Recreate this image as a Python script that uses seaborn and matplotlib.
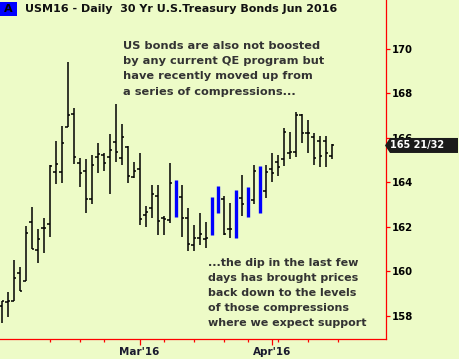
import numpy as np
import pandas as pd
import matplotlib
matplotlib.use("Agg")
import matplotlib.pyplot as plt
import seaborn as sns
from matplotlib.patches import Polygon, Rectangle

# ---------------- data ----------------
first_day = "2016-01-27"
last_day = "2016-04-29"
holidays = ["2016-02-15", "2016-03-25"]

opens = [158.45, 158.60, 158.67, 159.91, 159.57, 162.21, 160.95, 161.93, 162.12, 164.48,
         164.48, 166.48, 167.07, 164.86, 164.50, 163.25, 165.13, 165.23, 165.13, 165.80,
         165.11, 165.60, 164.23, 164.60, 162.53, 162.83, 163.38, 162.41, 162.30, 163.30,
         163.33, 162.38, 161.18, 161.51, 161.45, 162.50, 163.20, 163.24, 161.89, 162.60,
         163.28, 163.10, 163.20, 163.70, 163.61, 164.60, 164.91, 165.04, 165.30, 165.35,
         167.03, 166.23, 166.03, 165.86, 165.86, 165.18]
highs = [158.66, 159.05, 160.50, 160.18, 162.03, 162.88, 161.89, 162.38, 164.78, 165.87,
         166.53, 169.41, 167.33, 165.08, 165.05, 165.23, 165.76, 165.31, 166.17, 167.51,
         166.61, 165.63, 164.93, 165.31, 162.93, 163.88, 163.88, 162.48, 164.88, 164.10,
         163.88, 162.83, 162.08, 162.61, 162.23, 163.35, 163.83, 163.38, 163.06, 163.65,
         164.33, 163.78, 164.77, 164.73, 164.77, 165.31, 165.23, 166.46, 166.25, 167.18,
         167.07, 166.80, 166.21, 166.08, 166.08, 165.71]
lows = [157.68, 157.95, 158.67, 159.12, 159.57, 160.99, 160.38, 160.81, 161.55, 163.92,
        163.98, 166.48, 164.81, 163.78, 162.61, 163.01, 164.41, 164.51, 163.46, 164.93,
        164.78, 163.96, 164.18, 162.08, 162.00, 162.38, 161.63, 161.63, 162.18, 162.45,
        161.55, 160.92, 160.92, 161.18, 161.03, 161.63, 162.63, 161.63, 161.48, 161.48,
        162.48, 162.45, 163.01, 162.63, 163.31, 164.03, 164.28, 164.75, 165.04, 165.13,
        165.78, 165.33, 164.78, 164.68, 164.68, 165.04]
closes = [158.64, 158.67, 159.69, 159.12, 161.71, 161.01, 161.44, 161.95, 164.73, 164.81,
          165.76, 167.02, 165.13, 164.41, 163.24, 164.78, 165.26, 164.86, 165.45, 165.35,
          166.03, 164.28, 164.52, 162.35, 162.68, 163.47, 162.26, 162.34, 163.96, 163.00,
          162.38, 161.21, 161.48, 161.66, 161.48, 162.40, 163.40, 161.66, 161.92, 162.20,
          163.01, 163.50, 164.51, 164.00, 164.46, 164.43, 164.68, 166.25, 165.38, 167.03,
          166.21, 166.21, 165.08, 165.18, 165.33, 165.656]
compression_bars = [29, 35, 36, 39, 41, 43]

y_ticks = [158, 160, 162, 164, 166, 168, 170]
month_ticks = ["2016-03-01", "2016-04-01"]
month_labels = ["Mar'16", "Apr'16"]
week_ticks = ["2016-02-08", "2016-02-16", "2016-02-22", "2016-03-07", "2016-03-14",
              "2016-03-21", "2016-03-28", "2016-04-04", "2016-04-11", "2016-04-18"]
last_label = "165 21/32"

title = "USM16 - Daily  30 Yr U.S.Treasury Bonds Jun 2016"
note1 = ("US bonds are also not boosted\nby any current QE program but\n"
         "have recently moved up from\na series of compressions...")
note2 = ("...the dip in the last few\ndays has brought prices\nback down to the levels\n"
         "of those compressions\nwhere we expect support")

# ---------------- build ----------------
days = pd.bdate_range(first_day, last_day)
days = days[~days.isin(pd.to_datetime(holidays))]
pos = {d: i for i, d in enumerate(days)}

df = pd.DataFrame({"date": days[:len(opens)], "open": opens, "high": highs,
                   "low": lows, "close": closes})
df["x"] = np.arange(len(df))
df["kind"] = np.where(df["x"].isin(compression_bars), "compression", "normal")

sns.set_style("ticks")
plt.rcParams["font.family"] = ["DejaVu Sans"]
plt.rcParams["font.weight"] = "bold"

bg = "#EDFBC7"
W, H = 459, 359
fig = plt.figure(figsize=(W / 100, H / 100), dpi=100)
fig.patch.set_facecolor(bg)
ax = fig.add_axes([0, 20 / H, 386 / W, 339 / H])
ax.set_facecolor(bg)

norm = df[df["kind"] == "normal"]
comp = df[df["kind"] == "compression"]
ax.vlines(norm["x"], norm["low"], norm["high"], color="black", lw=1.1)
ax.hlines(norm["open"], norm["x"] - 0.42, norm["x"], color="black", lw=1.1)
ax.hlines(norm["close"], norm["x"], norm["x"] + 0.42, color="black", lw=1.1)
ax.vlines(comp["x"], comp["low"], comp["high"], color="#0000FF", lw=2.4)

ax.set_xlim(-0.28, 64.05)
ax.set_ylim(156.95, 172.2)

for s in ["left", "top"]:
    ax.spines[s].set_visible(False)
for s in ["right", "bottom"]:
    ax.spines[s].set_color("#FF0000")
    ax.spines[s].set_linewidth(0.9)

ax.yaxis.tick_right()
ax.set_yticks(y_ticks)
ax.set_yticklabels([str(t) for t in y_ticks], fontsize=7.3, fontweight="bold")
ax.tick_params(axis="y", colors="#FF0000", labelcolor="black", length=3, width=0.9, pad=1.2)

ax.set_xticks([pos[pd.Timestamp(d)] for d in month_ticks])
ax.set_xticklabels(month_labels, fontsize=7.5, fontweight="bold")
ax.set_xticks([pos[pd.Timestamp(d)] for d in week_ticks], minor=True)
ax.tick_params(axis="x", which="major", colors="#FF0000", labelcolor="#1a1a2e",
               length=4.5, width=0.9, pad=1.2)
ax.tick_params(axis="x", which="minor", colors="#FF0000", length=2.3, width=0.9)
ax.grid(False)
ax.set_xlabel("")
ax.set_ylabel("")

# title with blue "A" box
fig.add_artist(Rectangle((0, 1 - 15.7 / H), 17 / W, 14 / H, transform=fig.transFigure,
                         facecolor="#0000FF", edgecolor="none"))
fig.text(8.5 / W, 1 - 9 / H, "A", ha="center", va="center", fontsize=8,
         fontweight="bold", color="black")
fig.text(25 / W, 1 - 9 / H, title, ha="left", va="center", fontsize=8.0,
         fontweight="bold", color="#111111")

# notes
fig.text(123 / W, 1 - 41.0 / H, note1, ha="left", va="top", fontsize=8.2,
         fontweight="bold", color="#333333", linespacing=1.65)
fig.text(207.5 / W, 1 - 258.5 / H, note2, ha="left", va="top", fontsize=8.0,
         fontweight="bold", color="#333333", linespacing=1.61)

# last-price label
x0 = ax.transAxes.transform((1, 0))[0]
y0 = ax.transData.transform((0, df["close"].iloc[-1]))[1]
hh = 7.5
poly = Polygon([(x0 - 1, y0), (x0 + 4, y0 + hh), (x0 + 72, y0 + hh), (x0 + 72, y0 - hh),
                (x0 + 4, y0 - hh)], closed=True, transform=None, facecolor="#1b1b1b",
               edgecolor="none", zorder=10)
fig.add_artist(poly)
fig.text((x0 + 4.5) / W, y0 / H, last_label, ha="left", va="center", fontsize=7.0,
         fontweight="bold", color="white", zorder=11)

fig.savefig("out.png", dpi=100, facecolor=bg)
